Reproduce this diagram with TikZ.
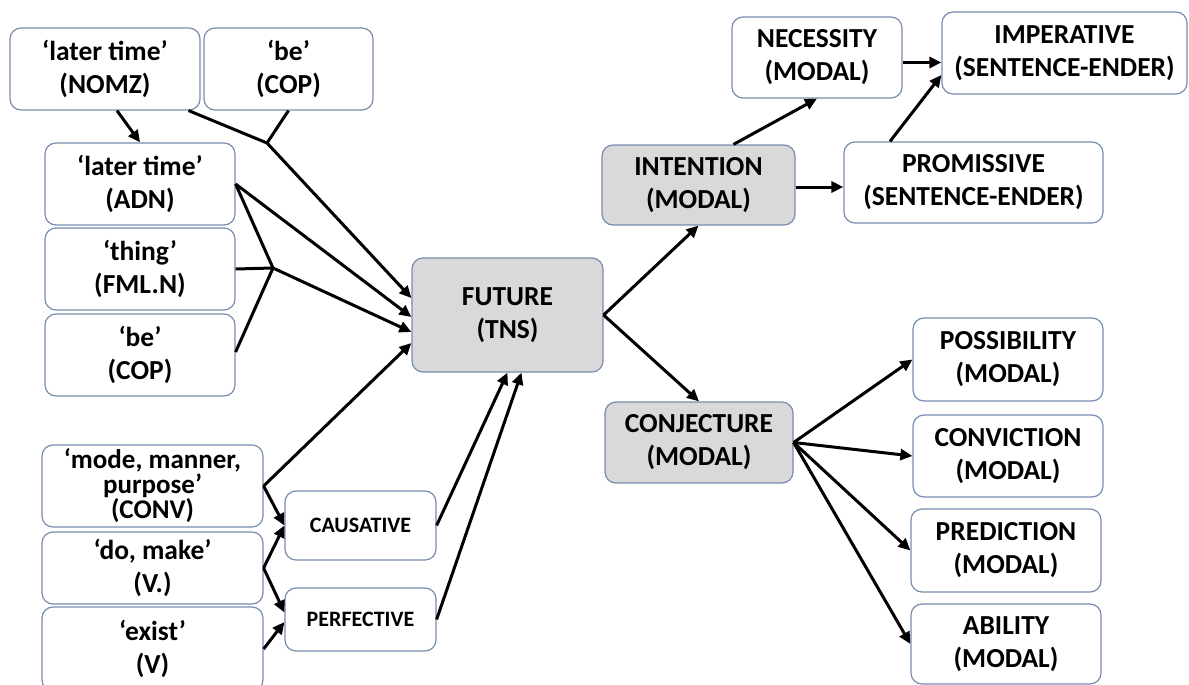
\documentclass[tikz,border=0pt]{standalone}
\usepackage{fontspec}
\setmainfont{Carlito}
\usetikzlibrary{arrows.meta}
\definecolor{boxline}{RGB}{120,140,175}
\definecolor{boxgrey}{RGB}{217,217,217}
\tikzset{
  morph/.style={draw=boxline, line width=1.2pt, rounded corners=11pt, fill=white,
    align=center, inner sep=0pt, font=\bfseries\fontsize{27.5}{33}\selectfont},
  gram/.style={morph, fill=boxgrey},
  small/.style={morph, font=\bfseries\fontsize{22}{26}\selectfont},
  conn/.style={-{Triangle[length=12pt,width=11pt]}, line width=3pt},
  link/.style={line width=3pt}
}
\begin{document}
\begin{tikzpicture}[x=1pt,y=-1pt]
\useasboundingbox (0,0) rectangle (1189,685);
% left column
\node[morph, minimum width=190pt, minimum height=82pt] (nomz) at (105,69) {‘later time’\\(NOMZ)};
\node[morph, minimum width=169pt, minimum height=82pt] (copa) at (288.5,69) {‘be’\\(COP)};
\node[morph, minimum width=190pt, minimum height=82pt] (adn) at (140,184) {‘later time’\\(ADN)};
\node[morph, minimum width=190pt, minimum height=82pt] (thing) at (140,269) {‘thing’\\(FML.N)};
\node[morph, minimum width=190pt, minimum height=82pt] (copb) at (140,355) {‘be’\\(COP)};
\node[morph, minimum width=221pt, minimum height=82pt, font=\bfseries\fontsize{27}{25}\selectfont] (conv) at (152.5,486) {‘mode, manner,\\purpose’\\(CONV)};
\node[morph, minimum width=221pt, minimum height=72pt] (domake) at (152.5,568) {‘do, make’\\(V.)};
\node[morph, minimum width=221pt, minimum height=84pt] (exist) at (152.5,649) {‘exist’\\(V)};
\node[small, minimum width=151pt, minimum height=69pt] (caus) at (360.5,525.5) {CAUSATIVE};
\node[small, minimum width=151pt, minimum height=63pt] (perf) at (360.5,619.5) {PERFECTIVE};
% centre
\node[gram, minimum width=191pt, minimum height=114pt] (future) at (507.5,315) {FUTURE\\(TNS)};
% right side
\node[gram, minimum width=193pt, minimum height=80pt] (intent) at (698.5,185) {INTENTION\\(MODAL)};
\node[morph, minimum width=170pt, minimum height=81pt] (neces) at (817,57.5) {NECESSITY\\(MODAL)};
\node[morph, minimum width=245pt, minimum height=82pt] (imper) at (1064.5,53) {IMPERATIVE\\(SENTENCE-ENDER)};
\node[morph, minimum width=259pt, minimum height=81pt] (promis) at (973.5,182.5) {PROMISSIVE\\(SENTENCE-ENDER)};
\node[gram, minimum width=188pt, minimum height=81pt] (conj) at (699,442.5) {CONJECTURE\\(MODAL)};
\node[morph, minimum width=190pt, minimum height=83pt] (poss) at (1008,359.5) {POSSIBILITY\\(MODAL)};
\node[morph, minimum width=190pt, minimum height=82pt] (convic) at (1008,456) {CONVICTION\\(MODAL)};
\node[morph, minimum width=190pt, minimum height=83pt] (pred) at (1006,550.5) {PREDICTION\\(MODAL)};
\node[morph, minimum width=190pt, minimum height=80pt] (abil) at (1006,644) {ABILITY\\(MODAL)};
% junctions
\coordinate (jtop) at (267,143);
\coordinate (jmid) at (273,268);
% connectors into FUTURE
\draw[conn] ([xshift=12pt]nomz.south) -- (adn.north);
\draw[link] ([xshift=-12pt]nomz.south east) -- (jtop);
\draw[link] (copa.south) -- (jtop);
\draw[conn] (jtop) -- ([yshift=17pt]future.west);
\draw[conn] (adn.east) -- ([yshift=-2pt]future.west);
\draw[link] (adn.east) -- (jmid);
\draw[link] (thing.east) -- (jmid);
\draw[link] ([yshift=3pt]copb.east) -- (jmid);
\draw[conn] (jmid) -- ([yshift=-17pt]future.west);
\draw[conn] (conv.east) -- ([yshift=-28pt]future.west);
\draw[conn] (conv.east) -- (caus.west);
\draw[conn] (domake.east) -- (caus.west);
\draw[conn] (domake.east) -- ([yshift=7pt]perf.west);
\draw[conn] (exist.east) -- ([yshift=-2.5pt]perf.west);
\draw[conn] (caus.east) -- (future.south);
\draw[conn] (perf.east) -- ([xshift=14pt]future.south);
% out of FUTURE
\draw[conn] (future.east) -- (intent.south);
\draw[conn] (future.east) -- (conj.north);
\draw[conn] ([xshift=35pt]intent.north) -- (neces.south);
\draw[conn] ([yshift=-2pt]intent.east) -- ([yshift=-2pt]intent.east -| promis.west);
\draw[conn] ([yshift=-5pt]neces.east) -- ([yshift=-5pt]neces.east -| imper.west);
\draw[conn] ([xshift=-83.5pt]promis.north) -- ([yshift=-22pt]imper.west);
\draw[conn] (conj.east) -- (poss.west);
\draw[conn] (conj.east) -- (convic.west);
\draw[conn] (conj.east) -- (pred.west);
\draw[conn] (conj.east) -- (abil.west);
\end{tikzpicture}
\end{document}
